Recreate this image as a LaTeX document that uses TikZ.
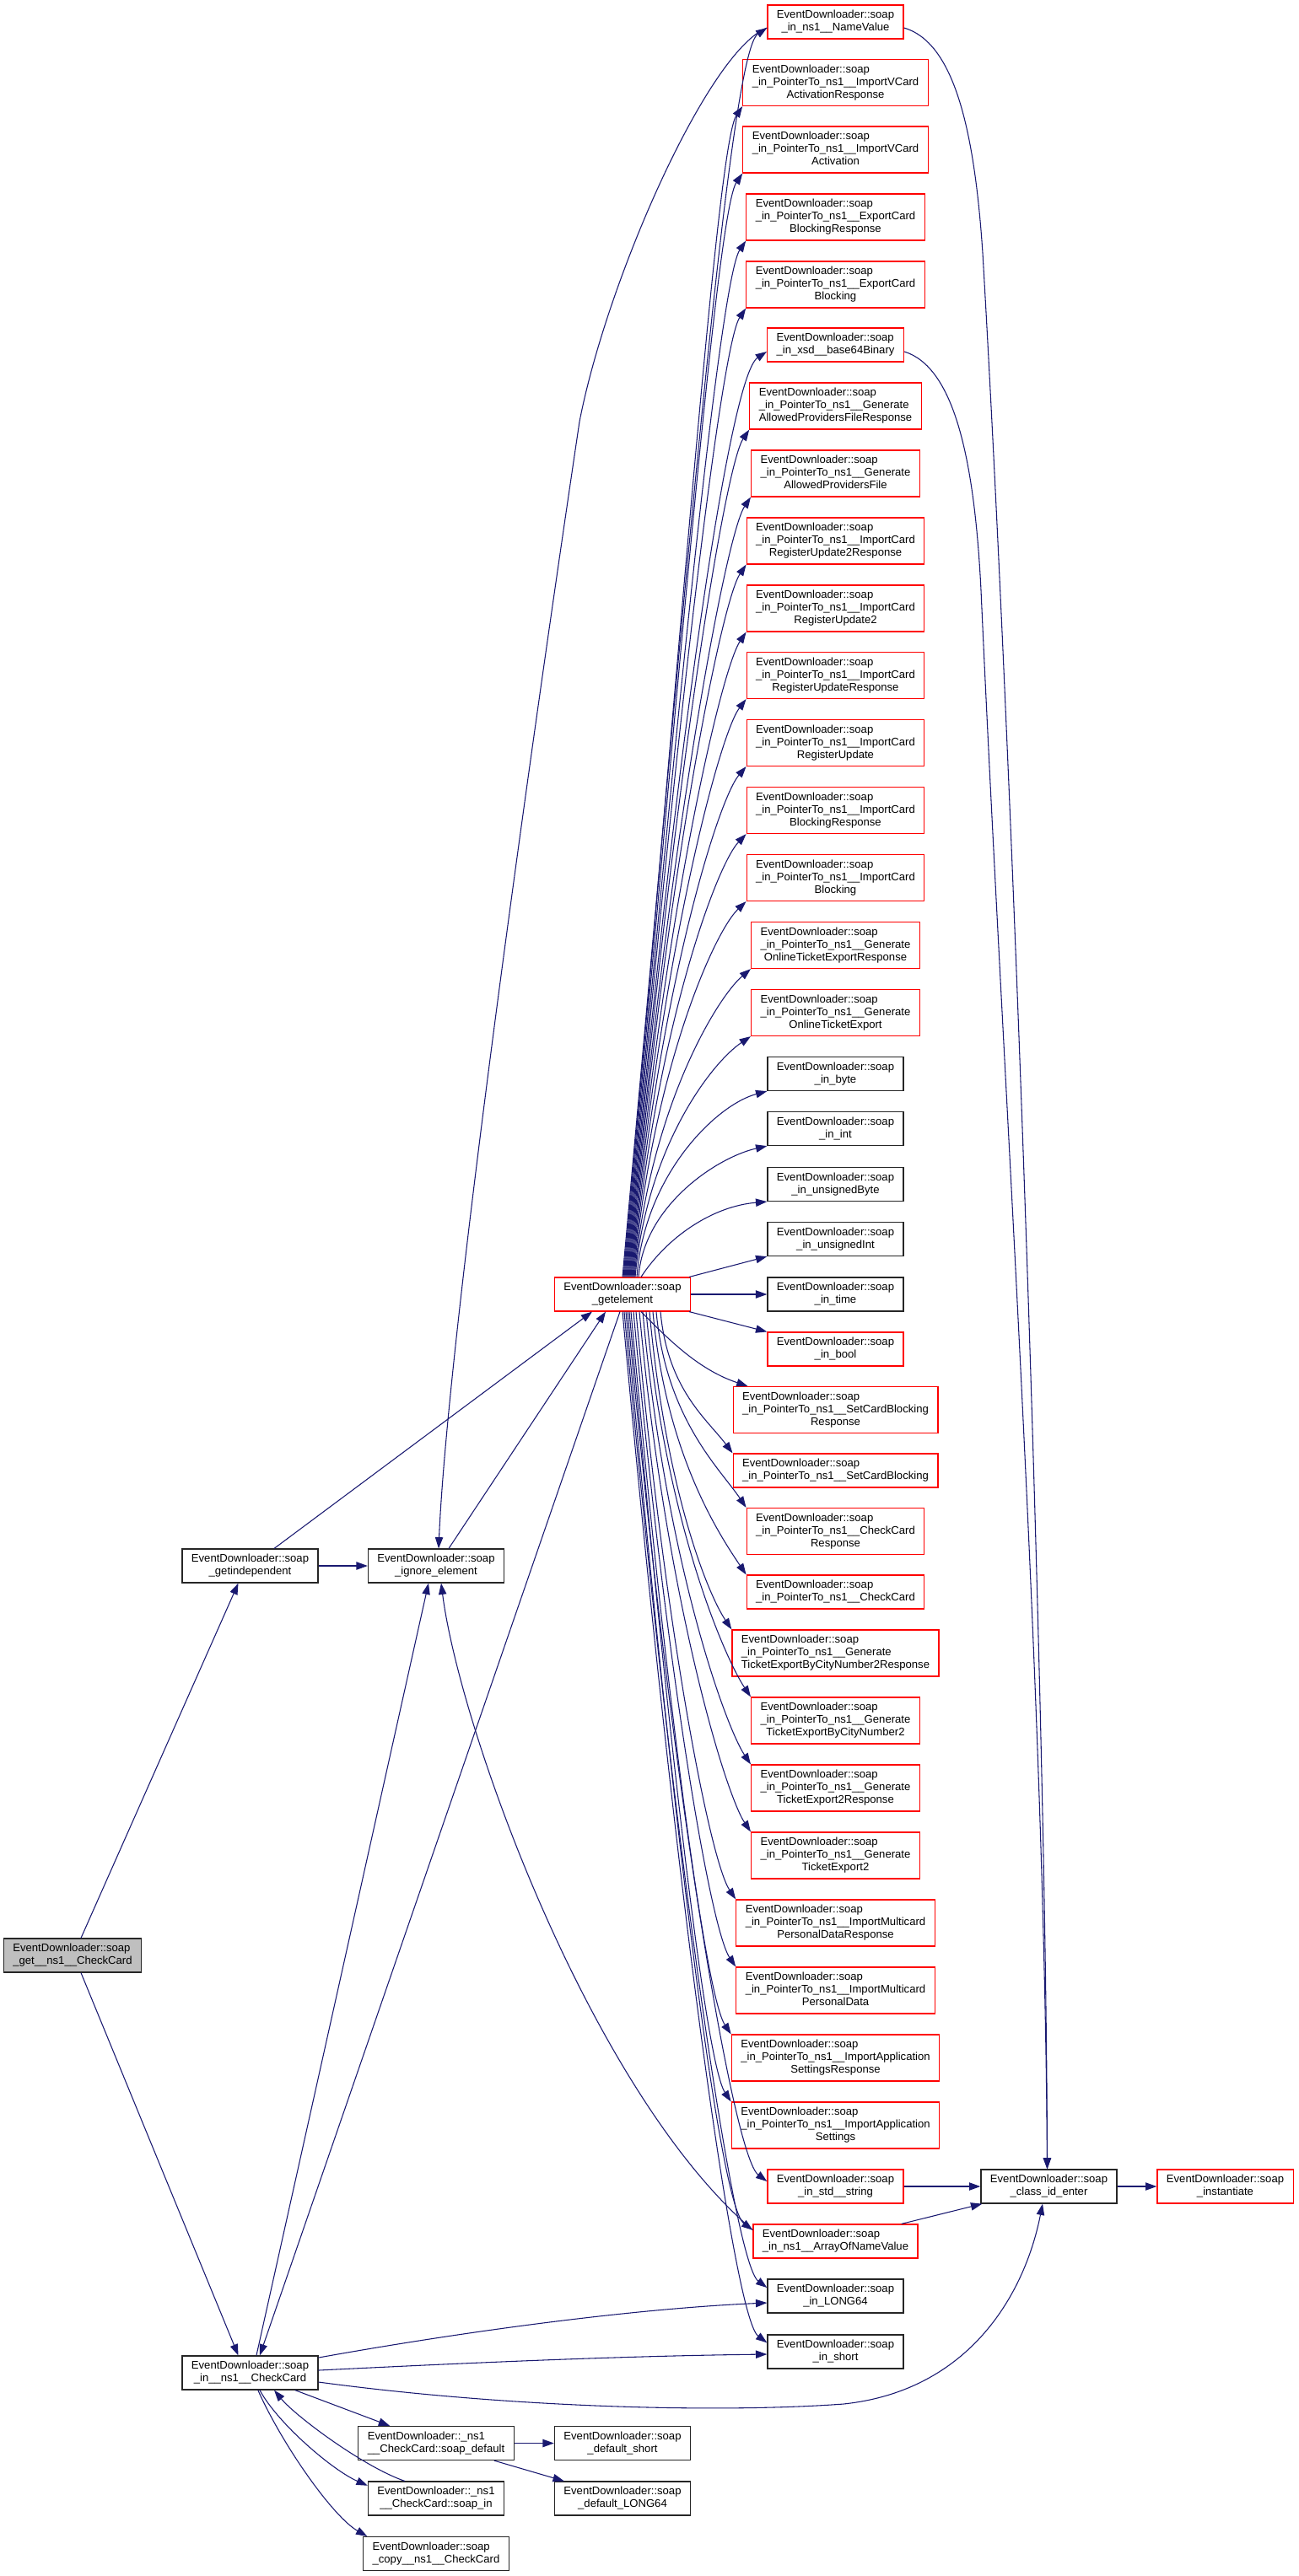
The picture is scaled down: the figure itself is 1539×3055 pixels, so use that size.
\documentclass[tikz,border=0pt]{standalone}
\usepackage{fontspec}
\setmainfont{Liberation Sans}
\usetikzlibrary{arrows.meta,calc}
\definecolor{edgecol}{HTML}{191970}
\definecolor{redb}{HTML}{FF0000}
\definecolor{getfill}{HTML}{BFBFBF}
\newcommand\nodefont{\fontsize{9.83pt}{11.25pt}\selectfont}
\newcommand\ED{EventDownloader::soap}
\newcommand\TwoL[2]{\begin{tabular}{@{}l@{}}#1\\\multicolumn{1}{@{}c@{}}{#2}\end{tabular}}
\newcommand\ThreeL[3]{\begin{tabular}{@{}l@{}}#1\\#2\\\multicolumn{1}{@{}c@{}}{#3}\end{tabular}}
% getelement -> target above
\newcommand\geUp[5]{%
  \draw[edge] let \p1=([xshift=#1*0.75pt]ge.north), \p2=(#2), \n1={\y2-\y1} in
    (\p1) .. controls ({\x1+#3*\n1},{\y1+0.55*\n1}) and ({\x2-#4*0.75pt},{\y2-#5*0.75pt}) .. (\p2);}
% getelement -> target below
\newcommand\geDn[5]{%
  \draw[edge] let \p1=([xshift=#1*0.75pt]ge.south), \p2=(#2), \n1={\y1-\y2} in
    (\p1) .. controls ({\x1+#3*\n1},{\y1-0.55*\n1}) and ({\x2-#4*0.75pt},{\y2+#5*0.75pt}) .. (\p2);}
\begin{document}
\begin{tikzpicture}[x=0.75pt,y=-0.75pt,
  box/.style={draw=black!85, line width=0.9pt, fill=white, inner xsep=8.25pt, inner ysep=0pt,
    font=\nodefont, minimum height=30pt},
  rbox/.style={box, draw=redb},
  gbox/.style={box, fill=getfill},
  tall/.style={minimum height=41.25pt},
  edge/.style={draw=edgecol, line width=0.8pt, -{Triangle[length=10pt,width=7pt]}}]
\useasboundingbox (0,0) rectangle (1539,3055);

% left part
\node[gbox] (get) at (86,2319) {\TwoL{\ED}{\_get\_\_ns1\_\_CheckCard}};
\node[box] (gi) at (296.5,1857) {\TwoL{\ED}{\_getindependent}};
\node[box] (ig) at (517,1857) {\TwoL{\ED}{\_ignore\_element}};
\node[rbox] (ge) at (738,1535) {\TwoL{\ED}{\_getelement}};
\node[box] (inc) at (296.5,2814) {\TwoL{\ED}{\_in\_\_ns1\_\_CheckCard}};
\node[box] (sd) at (517,2897.5) {\TwoL{EventDownloader::\_ns1}{\_\_CheckCard::soap\_default}};
\node[box] (si) at (517,2963) {\TwoL{EventDownloader::\_ns1}{\_\_CheckCard::soap\_in}};
\node[box] (cp) at (517,3028.5) {\TwoL{\ED}{\_copy\_\_ns1\_\_CheckCard}};
\node[box] (ds) at (738,2897.5) {\TwoL{\ED}{\_default\_short}};
\node[box] (dl) at (738,2963) {\TwoL{\ED}{\_default\_LONG64}};
\node[box] (cid) at (1243.5,2593) {\TwoL{\ED}{\_class\_id\_enter}};
\node[rbox] (inst) at (1452.5,2593) {\TwoL{\ED}{\_instantiate}};

% right column
\node[rbox] (n1) at (990.5,26) {\TwoL{\ED}{\_in\_ns1\_\_NameValue}};
\node[rbox,tall] (n2) at (990.5,98) {\ThreeL{\ED}{\_in\_PointerTo\_ns1\_\_ImportVCard}{ActivationResponse}};
\node[rbox,tall] (n3) at (990.5,177.5) {\ThreeL{\ED}{\_in\_PointerTo\_ns1\_\_ImportVCard}{Activation}};
\node[rbox,tall] (n4) at (990.5,257.5) {\ThreeL{\ED}{\_in\_PointerTo\_ns1\_\_ExportCard}{BlockingResponse}};
\node[rbox,tall] (n5) at (990.5,337.5) {\ThreeL{\ED}{\_in\_PointerTo\_ns1\_\_ExportCard}{Blocking}};
\node[rbox] (n6) at (990.5,409) {\TwoL{\ED}{\_in\_xsd\_\_base64Binary}};
\node[rbox,tall] (n7) at (990.5,481.5) {\ThreeL{\ED}{\_in\_PointerTo\_ns1\_\_Generate}{AllowedProvidersFileResponse}};
\node[rbox,tall] (n8) at (990.5,561.5) {\ThreeL{\ED}{\_in\_PointerTo\_ns1\_\_Generate}{AllowedProvidersFile}};
\node[rbox,tall] (n9) at (990.5,641.5) {\ThreeL{\ED}{\_in\_PointerTo\_ns1\_\_ImportCard}{RegisterUpdate2Response}};
\node[rbox,tall] (n10) at (990.5,721.5) {\ThreeL{\ED}{\_in\_PointerTo\_ns1\_\_ImportCard}{RegisterUpdate2}};
\node[rbox,tall] (n11) at (990.5,801) {\ThreeL{\ED}{\_in\_PointerTo\_ns1\_\_ImportCard}{RegisterUpdateResponse}};
\node[rbox,tall] (n12) at (990.5,881) {\ThreeL{\ED}{\_in\_PointerTo\_ns1\_\_ImportCard}{RegisterUpdate}};
\node[rbox,tall] (n13) at (990.5,961) {\ThreeL{\ED}{\_in\_PointerTo\_ns1\_\_ImportCard}{BlockingResponse}};
\node[rbox,tall] (n14) at (990.5,1041) {\ThreeL{\ED}{\_in\_PointerTo\_ns1\_\_ImportCard}{Blocking}};
\node[rbox,tall] (n15) at (990.5,1121) {\ThreeL{\ED}{\_in\_PointerTo\_ns1\_\_Generate}{OnlineTicketExportResponse}};
\node[rbox,tall] (n16) at (990.5,1201) {\ThreeL{\ED}{\_in\_PointerTo\_ns1\_\_Generate}{OnlineTicketExport}};
\node[box] (n17) at (990.5,1273.5) {\TwoL{\ED}{\_in\_byte}};
\node[box] (n18) at (990.5,1338.5) {\TwoL{\ED}{\_in\_int}};
\node[box] (n19) at (990.5,1404.5) {\TwoL{\ED}{\_in\_unsignedByte}};
\node[box] (n20) at (990.5,1469.5) {\TwoL{\ED}{\_in\_unsignedInt}};
\node[box] (n21) at (990.5,1535) {\TwoL{\ED}{\_in\_time}};
\node[rbox] (n22) at (990.5,1600) {\TwoL{\ED}{\_in\_bool}};
\node[rbox,tall] (n23) at (990.5,1672) {\ThreeL{\ED}{\_in\_PointerTo\_ns1\_\_SetCardBlocking}{Response}};
\node[rbox] (n24) at (990.5,1744) {\TwoL{\ED}{\_in\_PointerTo\_ns1\_\_SetCardBlocking}};
\node[rbox,tall] (n25) at (990.5,1816) {\ThreeL{\ED}{\_in\_PointerTo\_ns1\_\_CheckCard}{Response}};
\node[rbox] (n26) at (990.5,1888) {\TwoL{\ED}{\_in\_PointerTo\_ns1\_\_CheckCard}};
\node[rbox,tall] (n27) at (990.5,1960.5) {\ThreeL{\ED}{\_in\_PointerTo\_ns1\_\_Generate}{TicketExportByCityNumber2Response}};
\node[rbox,tall] (n28) at (990.5,2040.5) {\ThreeL{\ED}{\_in\_PointerTo\_ns1\_\_Generate}{TicketExportByCityNumber2}};
\node[rbox,tall] (n29) at (990.5,2120.5) {\ThreeL{\ED}{\_in\_PointerTo\_ns1\_\_Generate}{TicketExport2Response}};
\node[rbox,tall] (n30) at (990.5,2200.5) {\ThreeL{\ED}{\_in\_PointerTo\_ns1\_\_Generate}{TicketExport2}};
\node[rbox,tall] (n31) at (990.5,2280.5) {\ThreeL{\ED}{\_in\_PointerTo\_ns1\_\_ImportMulticard}{PersonalDataResponse}};
\node[rbox,tall] (n32) at (990.5,2360.5) {\ThreeL{\ED}{\_in\_PointerTo\_ns1\_\_ImportMulticard}{PersonalData}};
\node[rbox,tall] (n33) at (990.5,2440.5) {\ThreeL{\ED}{\_in\_PointerTo\_ns1\_\_ImportApplication}{SettingsResponse}};
\node[rbox,tall] (n34) at (990.5,2520.5) {\ThreeL{\ED}{\_in\_PointerTo\_ns1\_\_ImportApplication}{Settings}};
\node[rbox] (n35) at (990.5,2593) {\TwoL{\ED}{\_in\_std\_\_string}};
\node[rbox] (n36) at (990.5,2658) {\TwoL{\ED}{\_in\_ns1\_\_ArrayOfNameValue}};
\node[box] (n37) at (990.5,2723) {\TwoL{\ED}{\_in\_LONG64}};
\node[box] (n38) at (990.5,2789) {\TwoL{\ED}{\_in\_short}};

% getelement -> targets above
\geUp{0}{[yshift=-5.25pt]n1.west}{0.05}{45}{30}
\geUp{1}{n2.south west}{0.05}{30}{45}
\geUp{2}{n3.south west}{0.05}{30}{45}
\geUp{3}{n4.south west}{0.05}{30}{45}
\geUp{4}{n5.south west}{0.05}{30}{45}
\geUp{5}{[yshift=-6pt]n6.west}{0.05}{45}{30}
\geUp{6}{n7.south west}{0.05}{30}{45}
\geUp{7}{n8.south west}{0.05}{30}{45}
\geUp{8}{n9.south west}{0.05}{30}{45}
\geUp{9}{n10.south west}{0.05}{30}{45}
\geUp{10}{n11.south west}{0.05}{32}{42}
\geUp{11}{n12.south west}{0.05}{34}{40}
\geUp{12}{n13.south west}{0.05}{36}{38}
\geUp{13}{n14.south west}{0.05}{38}{36}
\geUp{14}{n15.south west}{0.05}{40}{34}
\geUp{15}{n16.south west}{0.05}{45}{30}
\geUp{17}{n17.south west}{0.04}{60}{16}
\geUp{19}{n18.south west}{0.04}{58}{13}
\draw[edge] ([xshift=16.5pt]ge.north) .. controls ([xshift=40pt,yshift=36pt]ge.north) and ([xshift=-48pt,yshift=-4pt]n19.south west) .. (n19.south west);
\draw[edge] ([xshift=-1.5pt]ge.north east) -- (n20.south west);
\draw[edge] (ge.east) -- (n21.west);
\draw[edge] ([xshift=-1.5pt]ge.south east) -- (n22.north west);
\draw[edge] ([xshift=16.5pt]ge.south) .. controls ([xshift=39pt,yshift=-22.5pt]ge.south) and ([xshift=-31.5pt,yshift=15pt]n23.north west) .. ([xshift=13.5pt]n23.north west);
% getelement -> targets below
\geDn{45}{n24.north west}{0.05}{30}{40}
\geDn{40}{n25.north west}{0.05}{30}{45}
\geDn{36}{n26.north west}{0.05}{30}{45}
\geDn{32}{n27.north west}{0.05}{30}{45}
\geDn{28}{n28.north west}{0.05}{30}{45}
\geDn{24}{n29.north west}{0.05}{30}{45}
\geDn{20}{n30.north west}{0.05}{30}{45}
\geDn{16}{n31.north west}{0.05}{30}{45}
\geDn{13}{n32.north west}{0.05}{30}{45}
\geDn{10}{n33.north west}{0.05}{30}{45}
\geDn{8}{n34.north west}{0.05}{30}{45}
\geDn{6}{[yshift=4.5pt]n35.west}{0.05}{40}{30}
\geDn{4}{[yshift=10pt]n36.west}{0.05}{40}{30}
\geDn{2}{[yshift=7.5pt]n37.west}{0.05}{40}{30}
\geDn{0}{[yshift=8pt]n38.west}{0.05}{40}{30}

% left part edges
\draw[edge] ([xshift=7.5pt]get.north) -- ([xshift=-10.5pt]gi.south);
\draw[edge] ([xshift=7.5pt]get.south) -- ([xshift=-10.5pt]inc.north);
\draw[edge] (gi.east) -- (ig.west);
\draw[edge] ([xshift=21.4pt]gi.north) -- ([xshift=-27pt]ge.south);
\draw[edge] ([xshift=11.25pt]ig.north) -- ([xshift=-15pt]ge.south);
\draw[edge] ([xshift=-2.25pt]ge.south) -- ([xshift=8.6pt]inc.north);
\draw[edge] ([xshift=5.6pt]inc.north) -- ([xshift=-6.75pt]ig.south);
\draw[edge] ([yshift=-5.25pt]n1.west) .. controls (840,60) and (720,330) .. (687,500) .. controls (620,950) and (530,1600) .. ([xshift=2.25pt]ig.north);
\draw[edge] ([yshift=10pt]n36.west) .. controls (700,2480) and (545,2050) .. ([xshift=4.5pt]ig.south);
\draw[edge] ([yshift=13.5pt]inc.east) .. controls (550,2765) and (750,2738) .. ([yshift=-6pt]n37.west);
\draw[edge] ([yshift=2.25pt]inc.east) .. controls (600,2800) and (750,2794) .. ([yshift=-2.25pt]n38.west);
\draw[edge] ([yshift=-8.25pt]inc.east) .. controls (600,2855) and (850,2862) .. (1000,2851) .. controls (1150,2835) and (1215,2720) .. ([xshift=-5.6pt]cid.south);
\draw[edge] ([xshift=40pt]inc.south) -- ([xshift=28.5pt]sd.north west);
\draw[edge] ([xshift=8.6pt]inc.south) .. controls (330,2875) and (395,2930) .. ([yshift=-4pt]si.north west);
\draw[edge] ([xshift=33pt]si.north west) .. controls (430,2925) and (350,2865) .. ([xshift=21.4pt]inc.south);
\draw[edge] ([xshift=7pt]inc.south) .. controls (335,2900) and (395,2985) .. ([xshift=4pt]cp.north west);
\draw[edge] (sd.east) -- (ds.west);
\draw[edge] ([xshift=-18pt]sd.south east) -- ([xshift=9pt]dl.north west);
% right part edges
\draw[edge] ([yshift=-5.25pt]n1.east) .. controls (1130,50) and (1155,150) .. (1165,300) .. controls (1200,900) and (1240,2000) .. ([xshift=-1.5pt]cid.north);
\draw[edge] ([yshift=-6pt]n6.east) .. controls (1130,435) and (1155,540) .. (1163,700) .. controls (1190,1300) and (1238,2000) .. ([xshift=-1.5pt]cid.north);
\draw[edge] (n35.east) -- (cid.west);
\draw[edge] ([xshift=-15pt]n36.north east) -- ([xshift=1.5pt]cid.south west);
\draw[edge] (cid.east) -- (inst.west);
\end{tikzpicture}
\end{document}
